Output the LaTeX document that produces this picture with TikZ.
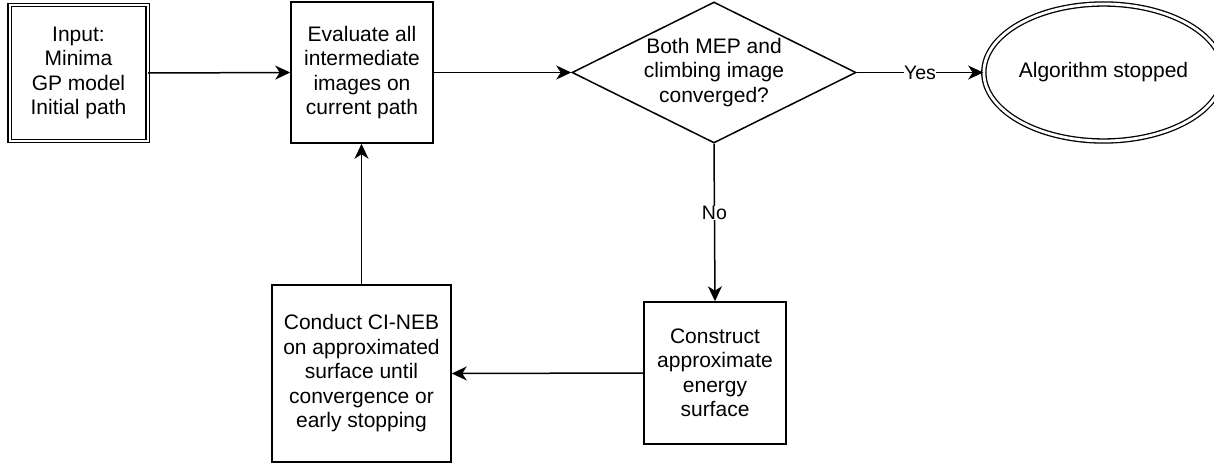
\documentclass[tikz,border=0pt]{standalone}
\usepackage{fontspec}
\setmainfont{Liberation Sans}
\usetikzlibrary{shapes.geometric,arrows.meta}
\begin{document}
\begin{tikzpicture}[x=1pt,y=-1pt,
  every node/.style={font=\fontsize{21}{24.5}\selectfont, align=center, inner sep=0pt, line width=1.5pt},
  box/.style={draw, rectangle},
  dbox/.style={draw, rectangle, double, double distance=2pt, line width=1.3pt},
  dec/.style={draw, diamond, inner sep=-30pt, minimum width=284pt, minimum height=141pt},
  term/.style={draw, ellipse, double, double distance=2.8pt, line width=1.3pt},
  arr/.style={line width=1.5pt, -{Stealth[length=15pt,width=14pt,inset=4.5pt]}},
  lab/.style={fill=white, font=\fontsize{19.5}{22}\selectfont, inner sep=0.5pt}
]
\useasboundingbox (0,0) rectangle (1214,463);
\node[dbox, minimum width=138pt, minimum height=136pt] (in) at (78.5,73) {Input:\\Minima\\GP model\\Initial path};
\node[box, minimum width=142pt, minimum height=141pt] (ev) at (362,72.5) {Evaluate all\\intermediate\\images on\\current path};
\node[dec] (dc) at (714,72.5) {Both MEP and\\climbing image\\converged?};
\node[term, minimum width=211pt, minimum height=137pt] (st) at (1103.5,72.5) {Algorithm stopped};
\node[box, minimum width=142pt, minimum height=142pt] (co) at (715,373) {Construct\\approximate\\energy\\surface};
\node[box, minimum width=179pt, minimum height=177pt] (cn) at (361.5,373.5) {Conduct CI-NEB\\on approximated\\surface until\\convergence or\\early stopping};
\draw[arr] (in.east) -- (ev.west);
\draw[arr] (ev.east) -- (dc.west);
\draw[arr] (dc.east) -- node[lab] {Yes} (st.west);
\draw[arr] (dc.south) -- node[lab, pos=0.44] {No} (co.north);
\draw[arr] (co.west) -- (cn.east);
\draw[arr] (cn.north) -- (cn.north |- ev.south);
\end{tikzpicture}
\end{document}
